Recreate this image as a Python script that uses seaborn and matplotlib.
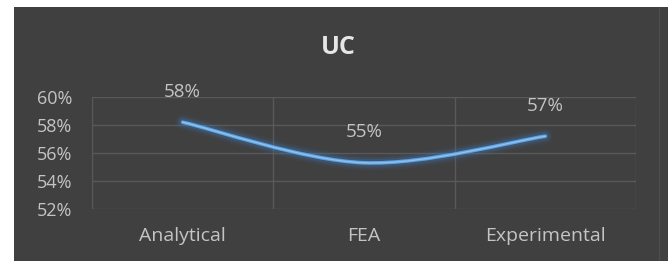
import matplotlib
matplotlib.use('Agg')
import matplotlib.pyplot as plt
import seaborn as sns
from matplotlib.path import Path
from matplotlib.patches import PathPatch, Rectangle
from matplotlib.ticker import PercentFormatter

# data
categories = ['Analytical', 'FEA', 'Experimental']
uc_values = [0.582, 0.553, 0.572]
label_texts = ['58%', '55%', '57%']

BG = '#404040'
GRID = '#595959'
TXT = '#c4c4c4'

sns.set_theme(style='dark')
plt.rcParams['font.family'] = ['Open Sans', 'DejaVu Sans']

W, H = 668, 261
fig = plt.figure(figsize=(W / 100, H / 100), dpi=100, facecolor='white')

# dark chart panel with white margin on top / left
panel = Rectangle((14 / W, 0), 1 - 14 / W, 1 - 7 / H, transform=fig.transFigure,
                  facecolor=BG, edgecolor='none', zorder=-10)
fig.patches.append(panel)
fig.add_artist(plt.Line2D([659 / W, 659 / W], [0, 1 - 7 / H], transform=fig.transFigure,
                          color='#4c4c4c', lw=1, zorder=-5))

ax = fig.add_axes([92 / W, 1 - 209 / H, (636 - 92) / W, (209 - 97) / H])
ax.set_zorder(2)
ax.set_facecolor(BG)

sns.lineplot(x=categories, y=uc_values, ax=ax, linewidth=0, sort=False)

# smoothed line (Excel style) through the plotted points
pts = ax.lines[0].get_xydata()
n = len(pts)
verts = [tuple(pts[0])]
codes = [Path.MOVETO]
for i in range(n - 1):
    p0 = pts[i - 1] if i > 0 else pts[i]
    p1, p2 = pts[i], pts[i + 1]
    p3 = pts[i + 2] if i + 2 < n else pts[i + 1]
    c1 = p1 + (p2 - p0) / 6
    c2 = p2 - (p3 - p1) / 6
    verts += [tuple(c1), tuple(c2), tuple(p2)]
    codes += [Path.CURVE4] * 3
path = Path(verts, codes)
for lw, a in [(11, 0.08), (8, 0.12), (5.5, 0.2)]:
    ax.add_patch(PathPatch(path, facecolor='none', edgecolor='#3f7fc4', lw=lw,
                           alpha=a, capstyle='round', zorder=3))
ax.add_patch(PathPatch(path, facecolor='none', edgecolor='#5fa3e3', lw=2.6,
                       capstyle='round', zorder=4))
ax.add_patch(PathPatch(path, facecolor='none', edgecolor='#8cc2f0', lw=1.0,
                       capstyle='round', zorder=5))

for (x, y), t in zip(pts, label_texts):
    ax.annotate(t, (x, y), xytext=(0, 22), textcoords='offset points',
                ha='center', va='center', color=TXT, fontsize=13.5)

ax.set_xlim(-0.5, len(categories) - 0.5)
ax.set_ylim(0.52, 0.60)
ax.set_yticks([0.52, 0.54, 0.56, 0.58, 0.60])
ax.yaxis.set_major_formatter(PercentFormatter(1.0, decimals=0))
ax.set_xticks(range(len(categories)))
ax.set_xticklabels(categories)

# category boundaries as vertical grid lines
for xb in [-0.5, 0.5, 1.5, 2.5]:
    ax.axvline(xb, color=GRID, lw=1, zorder=1)
for yv in [0.52, 0.54, 0.56, 0.58, 0.60]:
    ax.axhline(yv, color=GRID, lw=1, zorder=1)
ax.grid(False)
for s in ax.spines.values():
    s.set_visible(False)

ax.tick_params(axis='y', length=0, pad=14, labelsize=13, labelcolor=TXT)
ax.tick_params(axis='x', length=0, pad=13, labelsize=14, labelcolor=TXT)
ax.set_xlabel('')
ax.set_ylabel('')

fig.text(338 / W, 1 - 47 / H, 'UC', ha='center', va='center', color='#e6e6e6',
         fontsize=18, fontweight='bold')

fig.savefig('out.png', dpi=100, facecolor='white')
